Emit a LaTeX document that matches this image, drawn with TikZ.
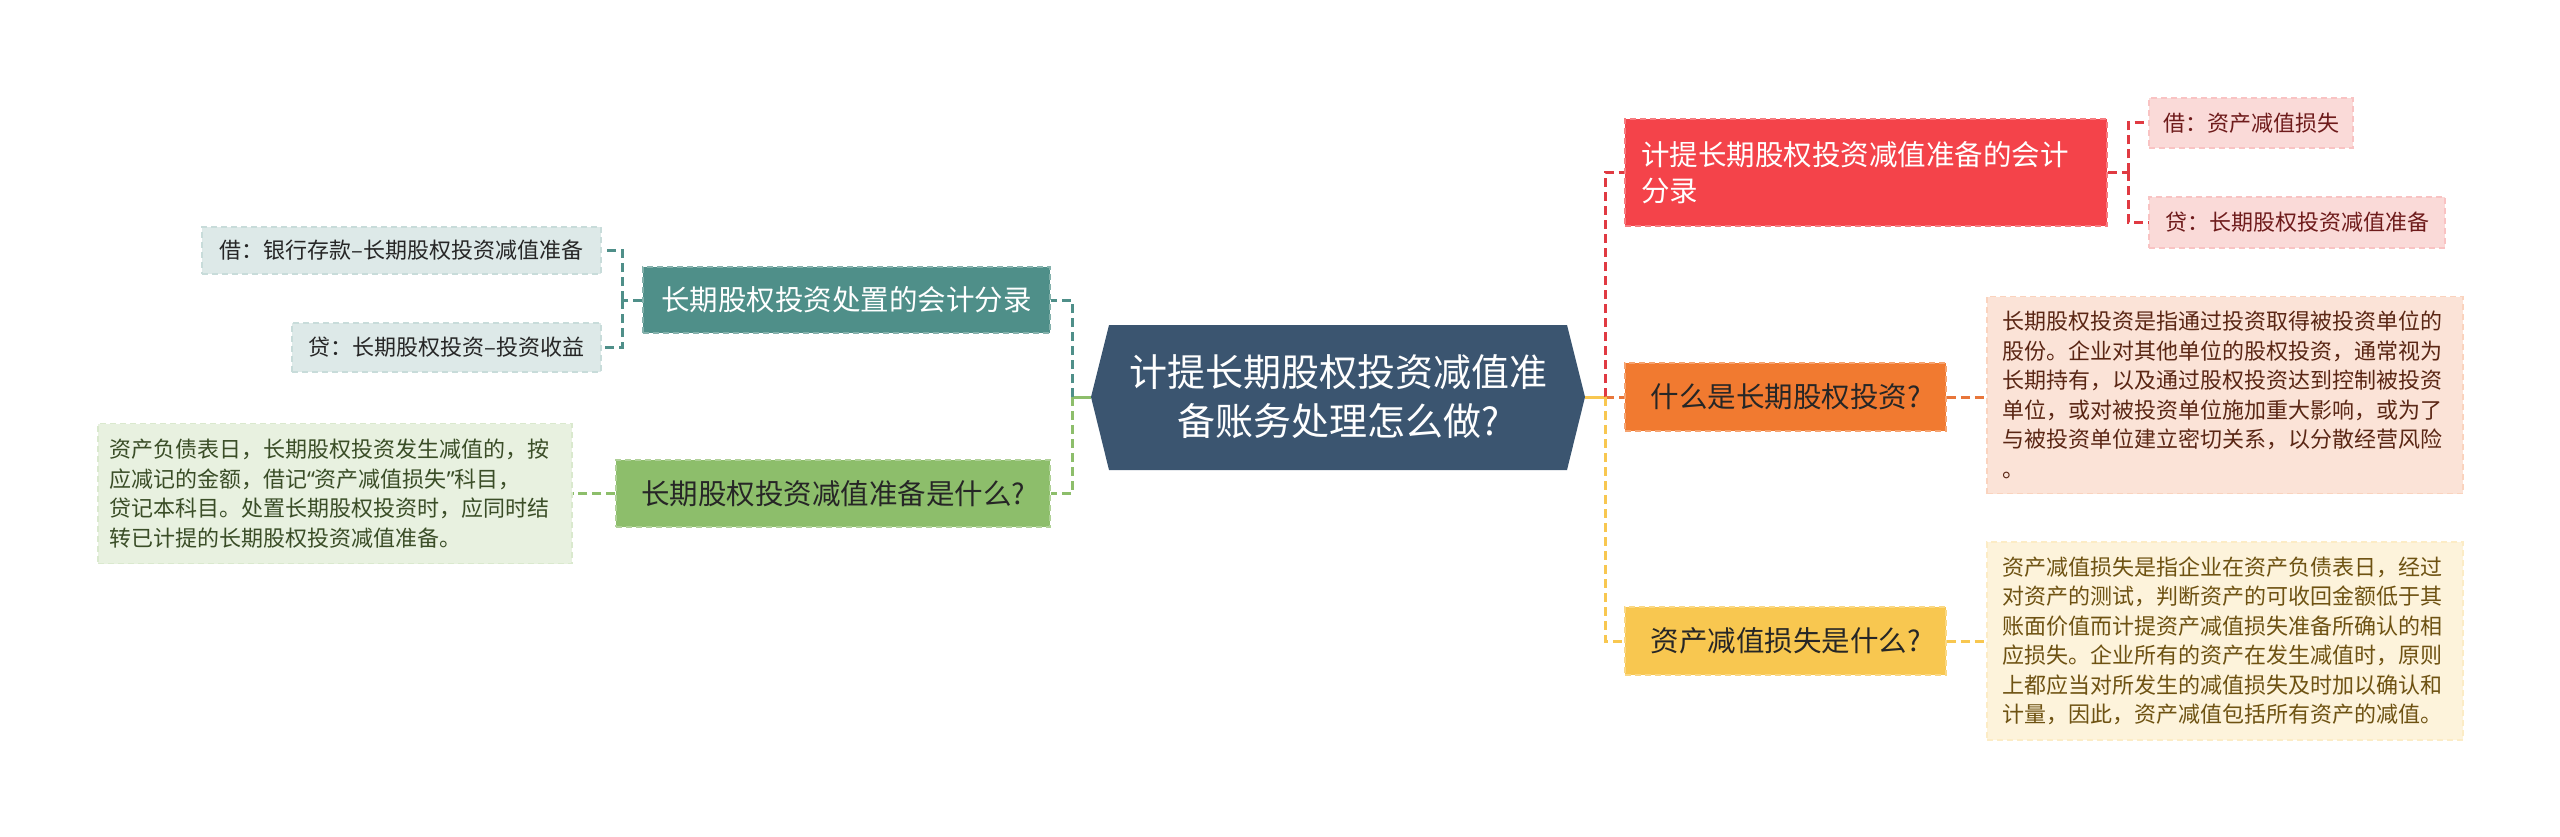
\documentclass[tikz,border=0pt]{standalone}
\usepackage{fontspec}
\setmainfont{Noto Sans CJK SC}
\newfontfamily\latq{Noto Sans}
\definecolor{cmain}{HTML}{3B5570}
\definecolor{cteal}{HTML}{4F8F89}
\definecolor{ctealL}{HTML}{DDE9E8}
\definecolor{cgreen}{HTML}{8DBE6B}
\definecolor{cgreenL}{HTML}{E8F1E0}
\definecolor{cgreenT}{HTML}{3A4D27}
\definecolor{cred}{HTML}{F4434A}
\definecolor{credL}{HTML}{FADAD8}
\definecolor{credT}{HTML}{6E1B1B}
\definecolor{credLine}{HTML}{E03A42}
\definecolor{corange}{HTML}{F17A30}
\definecolor{corangeL}{HTML}{FBE3D7}
\definecolor{corangeT}{HTML}{5A2614}
\definecolor{corangeLine}{HTML}{E8763A}
\definecolor{cyellow}{HTML}{F8C750}
\definecolor{cyellowL}{HTML}{FDF3DB}
\definecolor{cyellowT}{HTML}{6E5212}
\definecolor{cdark}{HTML}{262626}
\tikzset{
  box/.style={rectangle, inner ysep=0pt, line width=1.5pt, dash pattern=on 6pt off 4pt},
  bigtxt/.style={font=\fontsize{28.5}{36}\selectfont},
  smalltxt/.style={font=\fontsize{22}{29.5}\selectfont},
  link/.style={line width=3pt, dash pattern=on 9pt off 5pt},
  stub/.style={line width=3pt},
}
\begin{document}
\begin{tikzpicture}[x=1pt,y=-1pt]
\useasboundingbox (0,0) rectangle (2560,837);
\fill[white] (0,0) rectangle (2560,837);

% central hexagon
\fill[cmain] (1091,397) -- (1109,325) -- (1567,325) -- (1585,397) -- (1567,470) -- (1109,470) -- cycle;
\node[text=white, align=center, font=\fontsize{38}{49}\selectfont] (C) at (1338,397) {计提长期股权投资减值准\\备账务处理怎么做?};
\coordinate (cL) at (1091,397);
\coordinate (cR) at (1585,397);

% left side
\node[box, bigtxt, fill=cteal, draw=cteal!70!white, text=white, minimum width=407pt, minimum height=66pt] (T) at (846.5,300) {长期股权投资处置的会计分录};
\node[box, smalltxt, fill=ctealL, draw=ctealL!85!cteal, text=cdark, minimum width=399pt, minimum height=47pt] (T1) at (401.5,250.5) {借：银行存款–长期股权投资减值准备};
\node[box, smalltxt, fill=ctealL, draw=ctealL!85!cteal, text=cdark, minimum width=309pt, minimum height=49pt] (T2) at (446.5,347.5) {贷：长期股权投资–投资收益};
\node[box, bigtxt, fill=cgreen, draw=cgreen!70!white, text=cdark, minimum width=434pt, minimum height=67pt] (G) at (833,493.5) {长期股权投资减值准备是什么?};
\node[box, smalltxt, fill=cgreenL, draw=cgreenL!85!cgreen, text=cgreenT, align=left, inner xsep=11pt, text width=452pt, minimum height=140pt] (G1) at (335,493.5) {资产负债表日，长期股权投资发生减值的，按\\应减记的金额，借记{\latq“}资产减值损失{\latq”}科目，\\贷记本科目。处置长期股权投资时，应同时结\\转已计提的长期股权投资减值准备。};

\coordinate (jL) at (1072,397);
\coordinate (jT) at (622,300);
\draw[stub, cgreen] (cL) -- (jL);
\draw[link, cteal] (jL) |- (T.east);
\draw[link, cgreen] (jL) |- (G.east);
\draw[link, cteal] (T.west) -- (jT);
\draw[link, cteal] (jT) |- (T1.east);
\draw[link, cteal] (jT) |- (T2.east);
\draw[link, cgreen] (G.west) -- (G1.east);

% right side
\node[box, bigtxt, fill=cred, draw=cred!70!white, text=white, align=left, inner xsep=16pt, text width=450pt, minimum height=107pt] (R) at (1866,172.5) {计提长期股权投资减值准备的会计\\分录};
\node[box, smalltxt, fill=credL, draw=credL!85!cred, text=credT, minimum width=204pt, minimum height=50pt] (R1) at (2251,123) {借：资产减值损失};
\node[box, smalltxt, fill=credL, draw=credL!85!cred, text=credT, minimum width=296pt, minimum height=51pt] (R2) at (2297,222.5) {贷：长期股权投资减值准备};
\node[box, bigtxt, fill=corange, draw=corange!70!white, text=cdark, minimum width=321pt, minimum height=68pt] (O) at (1785.5,397) {什么是长期股权投资?};
\node[box, smalltxt, fill=corangeL, draw=corangeL!85!corange, text=corangeT, align=left, inner xsep=15pt, text width=446pt, minimum height=197pt] (O1) at (2225,395) {长期股权投资是指通过投资取得被投资单位的\\股份。企业对其他单位的股权投资，通常视为\\长期持有，以及通过股权投资达到控制被投资\\单位，或对被投资单位施加重大影响，或为了\\与被投资单位建立密切关系，以分散经营风险\\。};
\node[box, bigtxt, fill=cyellow, draw=cyellow!70!white, text=cdark, minimum width=321pt, minimum height=68pt] (Y) at (1785.5,641) {资产减值损失是什么?};
\node[box, smalltxt, fill=cyellowL, draw=cyellowL!85!cyellow, text=cyellowT, align=left, inner xsep=15pt, text width=446pt, minimum height=198pt] (Y1) at (2225,641) {资产减值损失是指企业在资产负债表日，经过\\对资产的测试，判断资产的可收回金额低于其\\账面价值而计提资产减值损失准备所确认的相\\应损失。企业所有的资产在发生减值时，原则\\上都应当对所发生的减值损失及时加以确认和\\计量，因此，资产减值包括所有资产的减值。};

\coordinate (jR) at (1605,397);
\coordinate (jR2) at (2128,172.5);
\draw[stub, cyellow] (cR) -- (jR);
\draw[link, credLine] (jR) |- (R.west);
\draw[link, corangeLine] (jR) -- (O.west);
\draw[link, cyellow] (jR) |- (Y.west);
\draw[link, credLine] (R.east) -- (jR2);
\draw[link, credLine] (jR2) |- (R1.west);
\draw[link, credLine] (jR2) |- (R2.west);
\draw[link, corangeLine] (O.east) -- (O.east -| O1.west);
\draw[link, cyellow] (Y.east) -- (Y.east -| Y1.west);
\end{tikzpicture}
\end{document}
